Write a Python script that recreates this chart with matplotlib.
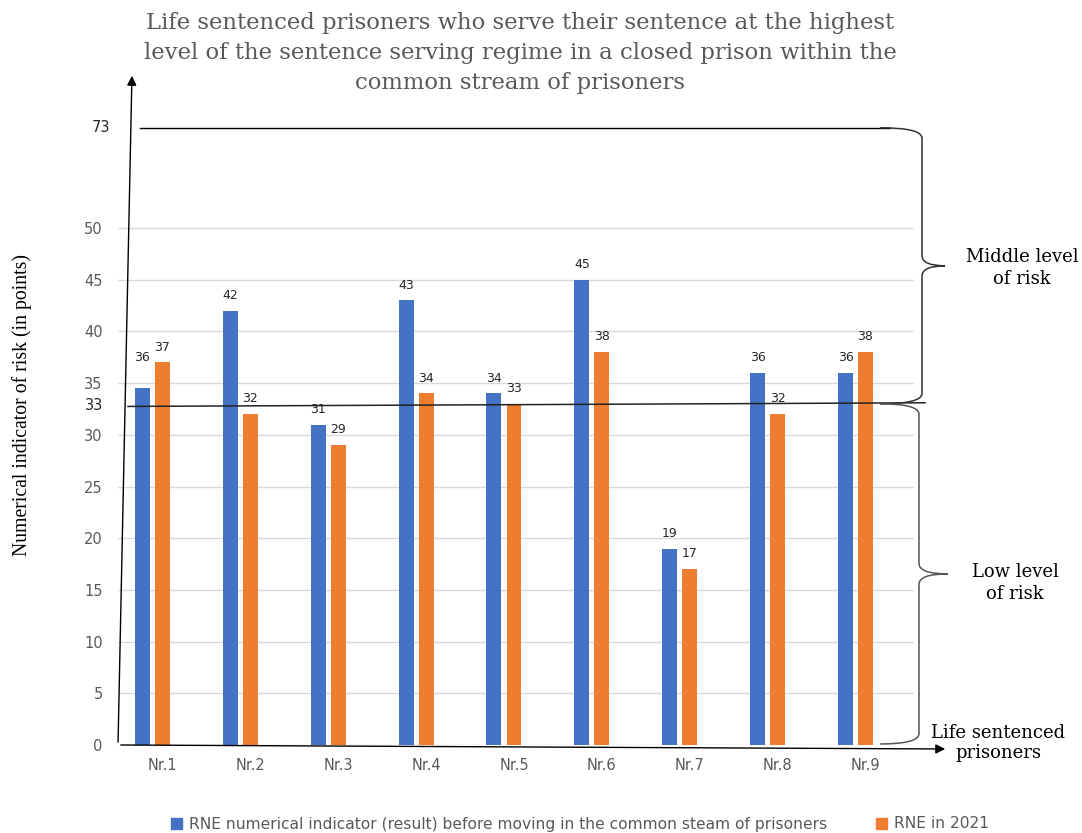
import matplotlib
matplotlib.use("Agg")
import matplotlib.pyplot as plt
import numpy as np
from matplotlib.path import Path
from matplotlib.patches import PathPatch, Patch, FancyArrowPatch
import matplotlib.transforms as mtransforms

# ---------------- data ----------------
categories = ["Nr.1", "Nr.2", "Nr.3", "Nr.4", "Nr.5", "Nr.6", "Nr.7", "Nr.8", "Nr.9"]
before_heights = [34.5, 42, 31, 43, 34, 45, 19, 36, 36]   # drawn heights
before_labels = [36, 42, 31, 43, 34, 45, 19, 36, 36]      # printed values
rne_2021 = [37, 32, 29, 34, 33, 38, 17, 32, 38]
y_ticks = [0, 5, 10, 15, 20, 25, 30, 35, 40, 45, 50]
threshold_low = 33
threshold_high_label = "73"

series_names = ["RNE numerical indicator (result) before moving in the common steam of prisoners",
                "RNE in 2021"]
title = ("Life sentenced prisoners who serve their sentence at the highest\n"
         "level of the sentence serving regime in a closed prison within the\n"
         "common stream of prisoners")
ylabel = "Numerical indicator of risk (in points)"
xlabel = "Life sentenced\nprisoners"
middle_text = "Middle level\nof risk"
low_text = "Low level\nof risk"

# ---------------- style ----------------
BLUE = "#4472C4"
ORANGE = "#ED7D31"
GRID = "#D9D9D9"
GRAY = "#595959"
SERIF_W = "DejaVu Serif"
SERIF = "Liberation Serif"
SANS = "DejaVu Sans"
W, H = 1082, 833
top_pos = 59.7   # where the "73" line sits on the drawn scale

fig = plt.figure(figsize=(W / 100, H / 100), dpi=100)
ax = fig.add_axes([118 / W, 1 - 745 / H, 796 / W, 672 / H])
ax.set_ylim(0, 65)
ax.set_xlim(-0.392, 8.666)
for s in ax.spines.values():
    s.set_visible(False)

x = np.arange(len(categories))
bw = 0.17
off = 0.114
for yv in y_ticks:
    ax.axhline(yv, color=GRID, lw=1, zorder=0)

ax.bar(x - off, before_heights, width=bw, color=BLUE, zorder=2)
ax.bar(x + off, rne_2021, width=bw, color=ORANGE, zorder=2)

for xi, h, lab in zip(x, before_heights, before_labels):
    ax.annotate(str(lab), (xi - off, max(h, lab)), xytext=(0, 11), textcoords="offset points",
                ha="center", va="center", fontsize=9, color="#262626", family=SANS)
for xi, v in zip(x, rne_2021):
    ax.annotate(str(v), (xi + off, v), xytext=(0, 11), textcoords="offset points",
                ha="center", va="center", fontsize=9, color="#262626", family=SANS)

# ticks
ax.set_yticks(y_ticks + [threshold_low])
ax.set_yticklabels([str(t) for t in y_ticks] + [str(threshold_low)])
ax.tick_params(axis="y", length=0, pad=11, labelsize=10.5, labelcolor=GRAY)
for lab in ax.get_yticklabels():
    lab.set_family(SANS)
ax.get_yticklabels()[-1].set_color("#262626")
ax.set_xticks(x)
ax.set_xticklabels(categories)
ax.tick_params(axis="x", length=0, pad=9, labelsize=10.5, labelcolor=GRAY)
shift = mtransforms.ScaledTranslation(10 / 100, 0, fig.dpi_scale_trans)
for lab in ax.get_xticklabels():
    lab.set_family(SANS)
    lab.set_transform(lab.get_transform() + shift)

bt = mtransforms.blended_transform_factory(fig.transFigure, ax.transData)
# "73" label and line
ax.text(110 / W, top_pos, threshold_high_label, transform=bt,
        ha="right", va="center", fontsize=10.5, color="#262626", family=SANS)
ax.plot([140 / W, 890 / W], [top_pos, top_pos], color="black", lw=1, transform=bt, clip_on=False, zorder=3)
ax.plot([128 / W, 925 / W], [threshold_low - 0.25, threshold_low + 0.1], color="#222222", lw=1.1,
        transform=bt, clip_on=False, zorder=4)

# arrows (axes)
fig.add_artist(FancyArrowPatch((118 / W, 1 - 745 / H), (132 / W, 1 - 73 / H),
               transform=fig.transFigure, arrowstyle="-|>", mutation_scale=14, color="black", lw=1))
fig.add_artist(FancyArrowPatch((118 / W, 1 - 745 / H), (948 / W, 1 - 749 / H),
               transform=fig.transFigure, arrowstyle="-|>", mutation_scale=14, color="black", lw=1))


def brace(xl, xv, xtip, ytop, ybot, r, col):
    ymid = (ytop + ybot) / 2
    verts = [(xl, ytop), (xv, ytop), (xv, ytop - r),
             (xv, ymid + r),
             (xv, ymid), (xtip, ymid),
             (xv, ymid), (xv, ymid - r),
             (xv, ybot + r),
             (xv, ybot), (xl, ybot)]
    codes = [Path.MOVETO, Path.CURVE3, Path.CURVE3,
             Path.LINETO,
             Path.CURVE3, Path.CURVE3,
             Path.CURVE3, Path.CURVE3,
             Path.LINETO,
             Path.CURVE3, Path.CURVE3]
    p = PathPatch(Path(verts, codes), fill=False, lw=1.1, edgecolor=col, transform=bt, clip_on=False)
    fig.add_artist(p)


brace(880 / W, 922 / W, 945 / W, top_pos, threshold_low, 1.0, "#333333")
brace(880 / W, 919 / W, 948 / W, threshold_low, 0.1, 1.0, "#555555")

# texts
fig.text(520 / W, 1 - 53 / H, title, ha="center", va="center", fontsize=16.4, color=GRAY,
         family=SERIF_W, linespacing=1.5)
fig.text(22 / W, 1 - 405 / H, ylabel, rotation=90, ha="center", va="center", fontsize=14.2,
         color="black", family=SERIF)
fig.text(1022 / W, 1 - 268 / H, middle_text, ha="center", va="center", fontsize=13,
         color="black", family=SERIF_W, linespacing=1.25)
fig.text(1015 / W, 1 - 583 / H, low_text, ha="center", va="center", fontsize=13,
         color="black", family=SERIF_W, linespacing=1.25)
fig.text(998 / W, 1 - 743 / H, xlabel, ha="center", va="center", fontsize=13,
         color="black", family=SERIF_W, linespacing=1.15)

handles = [Patch(color=BLUE), Patch(color=ORANGE)]
fig.legend(handles, series_names, loc="center", bbox_to_anchor=(580 / W, 1 - 824 / H), ncol=2,
           frameon=False, prop={"family": SANS, "size": 11.2}, labelcolor=GRAY,
           handlelength=0.7, handleheight=0.7, handletextpad=0.4, columnspacing=3.2)

fig.savefig("out.png", dpi=100)
